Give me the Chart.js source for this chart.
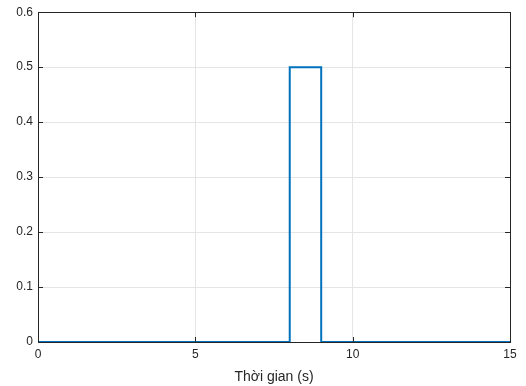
<!DOCTYPE html>
<html>
<head>
<meta charset="utf-8">
<script src="https://cdn.jsdelivr.net/npm/chart.js@4.4.1/dist/chart.umd.min.js"></script>
<style>
  html, body { margin: 0; padding: 0; background: #fff; }
  #wrap { width: 526px; height: 386px; }
</style>
</head>
<body>
<div id="wrap"><canvas id="c" width="526" height="386"></canvas></div>
<script>
// step signal: 0.5 between t=8 and t=9
const timeValues = [0, 8, 8, 9, 9, 15];
const signalValues = [0, 0, 0.5, 0.5, 0, 0];
const xTicks = [0, 5, 10, 15];
const yTicks = [0, 0.1, 0.2, 0.3, 0.4, 0.5, 0.6];

const axisColor = '#262626';

// box and inward ticks like matlab
const boxPlugin = {
  id: 'box',
  afterDraw(chart) {
    const ctx = chart.ctx;
    const a = chart.chartArea;
    const x = chart.scales.x, y = chart.scales.y;
    ctx.save();
    ctx.strokeStyle = axisColor;
    ctx.lineWidth = 1;
    ctx.beginPath();
    xTicks.forEach(v => {
      const px = Math.round(x.getPixelForValue(v)) + 0.5;
      ctx.moveTo(px, a.bottom); ctx.lineTo(px, a.bottom - 5);
      ctx.moveTo(px, a.top); ctx.lineTo(px, a.top + 5);
    });
    yTicks.forEach(v => {
      const py = Math.round(y.getPixelForValue(v)) + 0.5;
      ctx.moveTo(a.left, py); ctx.lineTo(a.left + 5, py);
      ctx.moveTo(a.right, py); ctx.lineTo(a.right - 5, py);
    });
    ctx.stroke();
    ctx.strokeRect(Math.round(a.left) + 0.5, Math.round(a.top) + 0.5,
      Math.round(a.right - a.left), Math.round(a.bottom - a.top));
    ctx.restore();
  }
};

new Chart(document.getElementById('c'), {
  type: 'scatter',
  data: {
    datasets: [{
      data: timeValues.map((t, i) => ({ x: t, y: signalValues[i] })),
      showLine: true,
      borderColor: '#0072BD',
      borderWidth: 2,
      pointRadius: 0,
      fill: false
    }]
  },
  options: {
    responsive: false,
    animation: false,
    layout: { padding: { left: 0, right: 16, top: 11, bottom: 0 } },
    plugins: { legend: { display: false }, tooltip: { enabled: false } },
    scales: {
      x: {
        type: 'linear', min: 0, max: 15,
        afterBuildTicks: s => { s.ticks = xTicks.map(v => ({ value: v })); },
        afterFit: s => { s.height = 44; },
        grid: { color: '#e5e5e5', drawTicks: false },
        border: { color: axisColor },
        ticks: { color: axisColor, padding: 5, font: { family: 'Liberation Sans', size: 12 } },
        title: { display: true, text: 'Thời gian (s)', color: axisColor, padding: { top: 0, bottom: 0 },
          font: { family: 'Liberation Sans', size: 14 } }
      },
      y: {
        min: 0, max: 0.6,
        afterBuildTicks: s => { s.ticks = yTicks.map(v => ({ value: v })); },
        afterFit: s => { s.width = 38; },
        grid: { color: '#e5e5e5', drawTicks: false },
        border: { color: axisColor },
        ticks: { color: axisColor, padding: 5, font: { family: 'Liberation Sans', size: 12 },
          callback: v => String(Math.round(v * 10) / 10) }
      }
    }
  },
  plugins: [boxPlugin]
});
</script>
</body>
</html>
